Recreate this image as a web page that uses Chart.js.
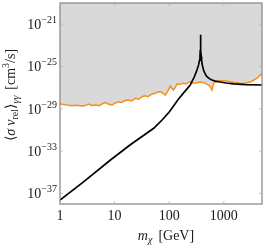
<!DOCTYPE html>
<html>
<head>
<meta charset="utf-8">
<script src="https://cdn.jsdelivr.net/npm/chart.js@4"></script>
<style>
html,body{margin:0;padding:0;background:#fff;}
#wrap{width:266px;height:249px;}
</style>
</head>
<body>
<div id="wrap"><canvas id="c" width="266" height="249"></canvas></div>
<script>
// ---- data (masses in GeV, values as log10 of <sigma v> in cm^3/s) ----
const limitMass = [1, 1.3, 1.67, 2.0, 2.55, 2.9, 3.32, 3.8, 4.46, 5.3, 6.0, 6.79, 7.8, 9.0, 10.3, 11.7, 13.5, 15.5, 17.9, 20.5, 24.0, 27.5, 31.8, 36, 41, 48.5, 55, 63.2, 72, 78, 84.9, 95, 105, 112, 120, 130, 139, 155, 168, 183, 205, 225, 243, 280, 322, 370, 425, 470, 525, 570, 606, 640, 668, 760, 860, 1000, 1150, 1308, 1600, 1995, 2300, 2643, 3100, 3750, 4200, 4630, 5000];
const limitLog = [-28.55, -28.63, -28.71, -28.66, -28.74, -28.70, -28.55, -28.68, -28.64, -28.70, -28.52, -28.42, -28.58, -28.64, -28.45, -28.33, -28.40, -28.22, -28.17, -28.25, -28.01, -28.10, -27.86, -27.78, -27.85, -27.60, -27.55, -27.38, -27.42, -27.58, -27.70, -27.30, -26.85, -27.10, -27.22, -26.95, -26.66, -26.70, -26.62, -26.59, -26.65, -26.50, -26.44, -26.60, -26.53, -26.48, -26.53, -26.62, -26.75, -26.95, -27.22, -26.70, -26.53, -26.40, -26.34, -26.36, -26.40, -26.44, -26.52, -26.59, -26.60, -26.53, -26.45, -26.21, -26.05, -25.81, -25.74];
const modelMass = [1, 2.73, 8.4, 19.4, 52, 74, 100, 147, 190, 243, 290, 322, 345, 360, 366, 370, 373, 375, 377, 380, 385, 392, 405, 425, 455, 490, 545, 605, 700, 860, 1100, 1500, 2500, 5000];
const modelLog = [-37.62, -35.89, -33.84, -32.40, -30.84, -30.06, -29.30, -28.10, -27.40, -26.75, -25.95, -25.33, -24.85, -24.40, -24.00, -23.50, -22.90, -22.00, -22.90, -23.50, -24.05, -24.45, -24.90, -25.33, -25.70, -25.96, -26.15, -26.28, -26.38, -26.47, -26.56, -26.64, -26.71, -26.75];
const xTicks = [1, 10, 100, 1000];
const xTickLabels = ["1", "10", "100", "1000"];
const yTickExp = [-21, -25, -29, -33, -37];
const xRange = [1, 5000];
const yRange = [1e-38, 1e-19];

const toPts = (ms, ls) => ms.map((m, i) => ({x: m, y: Math.pow(10, ls[i])}));

const SERIF = '"Liberation Serif", "DejaVu Serif", serif';

function drawRich(ctx, segs, x, y, align) {
  let total = 0;
  segs.forEach(s => { ctx.font = s.f; s.w = ctx.measureText(s.t).width; total += s.w + (s.gap || 0); });
  let cx = align === 'center' ? x - total / 2 : (align === 'right' ? x - total : x);
  segs.forEach(s => {
    ctx.font = s.f;
    ctx.fillText(s.t, cx, y + (s.dy || 0));
    cx += s.w + (s.gap || 0);
  });
}

const decor = {
  id: 'decor',
  afterDraw(chart) {
    const ctx = chart.ctx;
    const a = chart.chartArea;
    const xs = chart.scales.x, ys = chart.scales.y;
    ctx.save();
    // frame
    ctx.strokeStyle = '#8c8c8c';
    ctx.lineWidth = 1.3;
    ctx.strokeRect(a.left, a.top, a.right - a.left, a.bottom - a.top);
    // inner ticks
    ctx.strokeStyle = '#b0b0b0';
    ctx.lineWidth = 0.8;
    ctx.beginPath();
    xTicks.forEach(v => {
      const px = xs.getPixelForValue(v);
      ctx.moveTo(px, a.bottom); ctx.lineTo(px, a.bottom - 3);
      ctx.moveTo(px, a.top); ctx.lineTo(px, a.top + 3);
    });
    yTickExp.forEach(e => {
      const py = ys.getPixelForValue(Math.pow(10, e));
      ctx.moveTo(a.left, py); ctx.lineTo(a.left + 3, py);
      ctx.moveTo(a.right, py); ctx.lineTo(a.right - 3, py);
    });
    ctx.stroke();
    // tick labels
    ctx.fillStyle = '#1a1a1a';
    ctx.textBaseline = 'alphabetic';
    ctx.textAlign = 'left';
    xTicks.forEach((v, i) => {
      const px = xs.getPixelForValue(v);
      drawRich(ctx, [{t: xTickLabels[i], f: '14px ' + SERIF}], px, 220, 'center');
    });
    yTickExp.forEach(e => {
      const py = ys.getPixelForValue(Math.pow(10, e));
      drawRich(ctx, [
        {t: '10', f: '14px ' + SERIF},
        {t: '\u2212' + Math.abs(e), f: '10px ' + SERIF, dy: -6}
      ], 57, py + 5, 'right');
    });
    // x title
    drawRich(ctx, [
      {t: 'm', f: 'italic 14px ' + SERIF},
      {t: '\u03c7', f: 'italic 10px ' + SERIF, dy: 3, gap: 6},
      {t: '[GeV]', f: '14px ' + SERIF}
    ], 166, 240, 'center');
    // y title
    ctx.translate(15, 95);
    ctx.rotate(-Math.PI / 2);
    drawRich(ctx, [
      {t: '\u27e8', f: '14px ' + SERIF},
      {t: '\u03c3', f: 'italic 14px ' + SERIF, gap: 3},
      {t: 'v', f: 'italic 14px ' + SERIF},
      {t: 'rel', f: '10px ' + SERIF, dy: 3},
      {t: '\u27e9', f: '14px ' + SERIF},
      {t: '\u03b3\u03b3', f: 'italic 10px ' + SERIF, dy: 4, gap: 6},
      {t: '[cm', f: '14px ' + SERIF},
      {t: '3', f: '10px ' + SERIF, dy: -6},
      {t: '/s]', f: '14px ' + SERIF}
    ], 0, 0, 'center');
    ctx.restore();
  }
};

new Chart(document.getElementById('c'), {
  type: 'line',
  data: {
    datasets: [
      {
        data: toPts(limitMass, limitLog),
        borderColor: '#f5901e',
        borderWidth: 1.5,
        backgroundColor: '#d9d9d9',
        fill: 'end',
        pointRadius: 0,
        tension: 0,
        order: 1
      },
      {
        data: toPts(modelMass, modelLog),
        borderColor: '#000000',
        borderWidth: 1.7,
        fill: false,
        pointRadius: 0,
        tension: 0,
        order: 0
      }
    ]
  },
  options: {
    responsive: false,
    animation: false,
    layout: {padding: {left: 60, right: 4, top: 3, bottom: 45}},
    plugins: {legend: {display: false}, tooltip: {enabled: false}, filler: {drawTime: 'beforeDatasetsDraw'}},
    scales: {
      x: {type: 'logarithmic', min: xRange[0], max: xRange[1], display: false},
      y: {type: 'logarithmic', min: yRange[0], max: yRange[1], display: false}
    }
  },
  plugins: [decor]
});
</script>
</body>
</html>
